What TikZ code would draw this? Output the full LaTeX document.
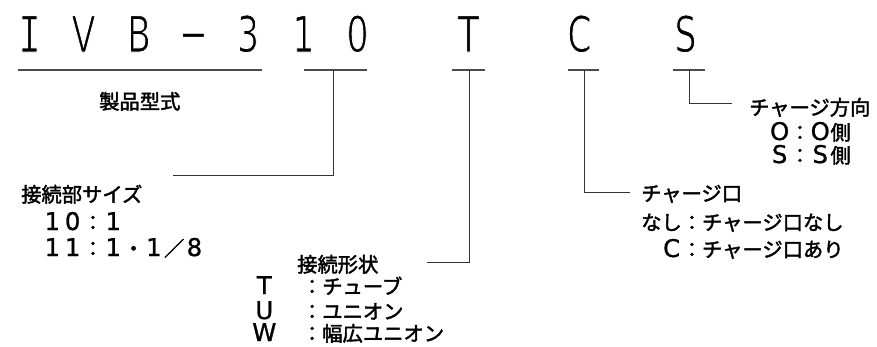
\documentclass[tikz,border=0pt]{standalone}
\usepackage{fontspec}
\setmainfont{Noto Sans CJK JP}
\newfontfamily\jp[FakeBold=2]{Noto Sans CJK JP}
\newfontfamily\hwfont[Scale=1.2,FakeBold=1]{DejaVu Sans}
\newfontfamily\bigfont[FakeStretch=0.7]{DejaVu Sans}
\newfontfamily\bigmono[FakeStretch=0.75]{DejaVu Sans Mono}
\newcommand\hw[1]{\makebox[1em][c]{\hwfont #1}}
\newcommand\thinglyph[1]{\special{pdf:literal q 2 Tr 1 1 1 RG 0.9 w}#1\special{pdf:literal Q}}
\begin{document}
\begin{tikzpicture}[x=1pt,y=-1pt,
  jp/.style={font=\jp\fontsize{20.3}{24}\selectfont, anchor=base west, inner sep=0pt},
  big/.style={font=\bigfont\fontsize{50}{50}\selectfont, anchor=base, inner sep=0pt},
  uline/.style={line width=1.5pt, draw=black!70},
  conn/.style={line width=1pt, draw=black!80}]
\useasboundingbox (0,0) rectangle (877,346);
% code letters
\node[big] (cI) at (29.5,52) {\thinglyph{\bigmono I}};
\node[big] (cV) at (83.5,52) {\thinglyph{V}};
\node[big] (cB) at (139,52) {\thinglyph{B}};
\node[big] (cD) at (193.5,52) {\thinglyph{\raisebox{1pt}{−}}};
\node[big] (c3) at (248,52) {\thinglyph{3}};
\node[big] (c1) at (303.5,52) {\thinglyph{1}};
\node[big] (c0) at (357.5,52) {\thinglyph{0}};
\node[big] (cT) at (468.5,52) {\thinglyph{T}};
\node[big] (cC) at (579.5,52) {\thinglyph{C}};
\node[big] (cS) at (685.5,52) {\thinglyph{S}};
% underlines
\coordinate (u1a) at (18,70);  \coordinate (u1b) at (262,70);
\coordinate (u2a) at (304,70); \coordinate (u2b) at (367,70);
\coordinate (u3a) at (452,70); \coordinate (u3b) at (485,70);
\coordinate (u4a) at (568,70); \coordinate (u4b) at (599,70);
\coordinate (u5a) at (673,70); \coordinate (u5b) at (705,70);
\draw[uline] (u1a) -- (u1b);
\draw[uline] (u2a) -- (u2b);
\draw[uline] (u3a) -- (u3b);
\draw[uline] (u4a) -- (u4b);
\draw[uline] (u5a) -- (u5b);
% connector points
\coordinate (k2) at (333,70);   \coordinate (e2) at (173,175);
\coordinate (k3) at (469,70);   \coordinate (e3) at (427,262);
\coordinate (k4) at (584,70);   \coordinate (e4) at (630,192);
\coordinate (k5) at (689,70);   \coordinate (e5) at (732,103);
\draw[conn] (k2) |- (e2);
\draw[conn] (k3) |- (e3);
\draw[conn] (k4) |- (e4);
\draw[conn] (k5) |- (e5);
% labels
\node[jp] (t1) at (99,109) {製品型式};
\node[jp] (t2) at (21,202) {接続部サイズ};
\node[jp] (t2a) at (42,230) {\hw{1}\hw{0}：\hw{1}};
\node[jp] (t2b) at (42,256) {\hw{1}\hw{1}：\hw{1}・\hw{1}／\hw{8}};
\node[jp] (t3) at (297,272) {接続形状};
\node[jp] (t3a) at (254,294) {\hw{T}\kern27.5pt：チューブ};
\node[jp] (t3b) at (254,319) {\hw{U}\kern27.5pt：ユニオン};
\node[jp] (t3c) at (254,341) {\hw{W}\kern27.5pt：幅広ユニオン};
\node[jp] (t4) at (641,201) {チャージ口};
\node[jp] (t4a) at (641,230) {なし：チャージ口なし};
\node[jp] (t4b) at (641,257) {　\hw{C}：チャージ口あり};
\node[jp] (t5) at (749,115) {チャージ方向};
\node[jp] (t5a) at (749,140) {　\hw{O}：\hw{O}側};
\node[jp] (t5b) at (749,163) {　\hw{S}：\hw{S}側};
\end{tikzpicture}
\end{document}
